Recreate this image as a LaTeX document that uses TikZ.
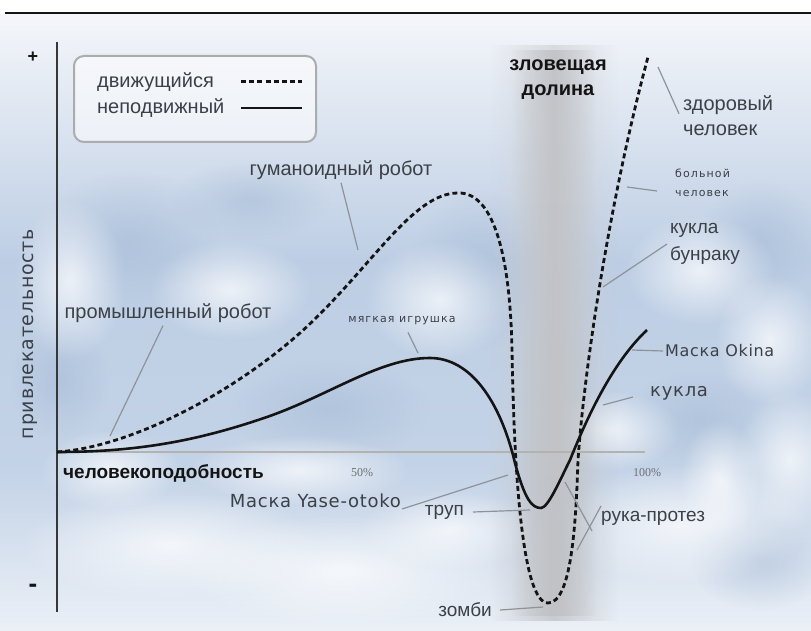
\documentclass[tikz,border=0pt]{standalone}
\usepackage{fontspec}
\setmainfont{Liberation Sans}
\newfontfamily\verafont[LetterSpace=4]{DejaVu Sans}
\newfontfamily\smallvera[LetterSpace=10]{DejaVu Sans}
\newfontfamily\pctfont{Liberation Serif}
\usepackage{tikz}
\usetikzlibrary{fadings}
\definecolor{ink}{HTML}{141414}
\definecolor{muted}{HTML}{3C4047}
\definecolor{leadgray}{HTML}{8E9399}
\definecolor{axisgray}{HTML}{B3B2AF}
\definecolor{skytop}{HTML}{F4F6FA}
\definecolor{skymid}{HTML}{BDCEE4}
\definecolor{skylow}{HTML}{EBF0F7}
\definecolor{skydeep}{HTML}{A2B8D4}
\definecolor{valley}{HTML}{85878B}
\definecolor{valleylow}{HTML}{C0C2C5}
\tikzfading[name=bandfade, left color=transparent!100, right color=transparent!100, middle color=transparent!0]
\tikzfading[name=softblob, inner color=transparent!0, outer color=transparent!100]
\tikzset{
  axisline/.style={draw=ink!85, line width=2.4pt},
  xline/.style={draw=axisgray, line width=2.6pt},
  moveline/.style={draw=ink, line width=2.8pt, dash pattern=on 5pt off 3.2pt},
  stillline/.style={draw=ink, line width=2.6pt},
  leadline/.style={draw=leadgray, line width=1.2pt},
  legendbox/.style={draw=gray!65, line width=2pt, rounded corners=10pt, fill=white, fill opacity=0.55},
  lbl/.style={text=muted, inner sep=0pt, align=left, font=\fontsize{19}{26}\selectfont},
  blbl/.style={text=ink, inner sep=0pt, align=center, font=\bfseries\fontsize{19}{25}\selectfont},
  mlabel/.style={text=muted, inner sep=0pt, font=\verafont\fontsize{17}{20}\selectfont},
  tinylbl/.style={text=muted, inner sep=0pt, align=left, font=\smallvera\fontsize{11}{19}\selectfont},
  pct/.style={text=muted!75, inner sep=0pt, font=\pctfont\fontsize{12}{14}\selectfont},
  sign/.style={text=ink, inner sep=0pt, font=\bfseries\fontsize{18}{18}\selectfont},
  cloud/.style={white, opacity=0.72, path fading=softblob},
  shadow/.style={skydeep, opacity=0.5, path fading=softblob}
}

\begin{document}
\begin{tikzpicture}[x=1pt,y=-1pt]
  \useasboundingbox (0,0) rectangle (811,631);
  \fill[white] (0,0) rectangle (811,631);
  \shade[top color=skytop, bottom color=skymid] (0,15) rectangle (811,260);
  \shade[top color=skymid, bottom color=skymid!90!white] (0,260) rectangle (811,470);
  \shade[top color=skymid!90!white, bottom color=skylow] (0,470) rectangle (811,631);

  \foreach \cx/\cy/\rx/\ry in {130/240/90/70, 330/410/100/50, 700/420/80/50, 480/270/70/80, 250/200/80/40, 760/240/60/60, 60/380/50/60, 760/560/70/50}
    \fill[shadow] (\cx,\cy) ellipse [x radius=\rx, y radius=\ry];
  \foreach \cx/\cy/\rx/\ry in {70/280/55/80, 230/290/80/50, 440/300/75/60, 700/270/75/55, 770/340/55/65, 170/545/150/55, 340/570/160/55, 680/525/130/60, 610/430/70/40, 300/470/110/35, 110/470/70/40, 790/460/55/70, 450/530/90/40, 720/480/40/60}
    \fill[cloud] (\cx,\cy) ellipse [x radius=\rx, y radius=\ry];

  \shade[top color=valley!30!skytop, middle color=valley, bottom color=valleylow, path fading=bandfade, opacity=0.8] (490,45) rectangle (618,620);
  \shade[top color=valley!45!skytop, middle color=valley, bottom color=valleylow, path fading=bandfade] (512,50) rectangle (596,615);

  \draw[line width=2pt, ink] (5,13) -- (811,13);

  \coordinate (O) at (57,452);
  \coordinate (Ytop) at (57,42);
  \coordinate (Ybot) at (57,612);
  \coordinate (Xend) at (645,452);
  \draw[xline] (O) -- (Xend);
  \draw[axisline] (Ytop) -- (Ybot);

  \node[sign] (plus) at (33,57) {+};
  \node[sign, font=\bfseries\fontsize{26}{26}\selectfont] (minus) at (33,588) {-};
  \node[text=muted, inner sep=0pt, rotate=90, font=\verafont\fontsize{19}{20}\selectfont] (attr) at (30,334) {привлекательность};
  \node[blbl, anchor=west] (human) at (63,473) {человекоподобность};
  \node[pct] (p50) at (362,473) {50\%};
  \node[pct] (p100) at (647,473) {100\%};

  \draw[legendbox] (74,56) rectangle (316,142);
  \node[lbl, font=\fontsize{20}{22}\selectfont, anchor=west] (moving) at (97,82) {движущийся};
  \node[lbl, font=\fontsize{20}{22}\selectfont, anchor=west] (still) at (97,108) {неподвижный};
  \coordinate (m1) at (241,82);
  \coordinate (m2) at (302,82);
  \coordinate (s1) at (241,108);
  \coordinate (s2) at (302,108);
  \draw[moveline, line width=3pt] (m1) -- (m2);
  \draw[stillline] (s1) -- (s2);

  \node[blbl, font=\bfseries\fontsize{20}{25}\selectfont] (valleytxt) at (558,80) {зловещая\\долина};

  \draw[moveline] (57,452) .. controls (130,447) and (230,395) .. (300,333)
    .. controls (370,270) and (412,193) .. (458,193)
    .. controls (492,192) and (510,250) .. (512,350)
    .. controls (514,470) and (522,603) .. (548,603)
    .. controls (572,603) and (576,520) .. (578,460)
    .. controls (585,360) and (612,190) .. (648,57);
  \draw[stillline] (57,452) .. controls (140,452) and (200,440) .. (267,417)
    .. controls (330,395) and (380,358) .. (430,358)
    .. controls (470,358) and (500,400) .. (515,463)
    .. controls (525,500) and (532,508) .. (541,508)
    .. controls (548,508) and (560,480) .. (570,460)
    .. controls (590,410) and (615,360) .. (647,330);

  \node[lbl, font=\fontsize{20}{22}\selectfont] (industrial) at (168,313) {промышленный робот};
  \node[lbl, font=\fontsize{20}{22}\selectfont] (humanoid) at (341,170) {гуманоидный робот};
  \node[tinylbl] (toy) at (402,321) {мягкая игрушка};
  \node[lbl, font=\fontsize{20}{25}\selectfont, anchor=west] (healthy) at (683,116) {здоровый\\человек};
  \node[tinylbl, anchor=west] (sick) at (675,183) {больной\\человек};
  \node[lbl, font=\fontsize{19}{27}\selectfont, anchor=west] (bunraku) at (670,244) {кукла\\бунраку};
  \node[mlabel, font=\verafont\fontsize{16}{18}\selectfont, anchor=west] (okina) at (665,351) {Маска Okina};
  \node[mlabel, font=\verafont\fontsize{18}{20}\selectfont, anchor=west] (doll) at (650,393) {кукла};
  \node[mlabel, font=\verafont\fontsize{18}{20}\selectfont, anchor=east] (yase) at (401,501) {Маска Yase-otoko};
  \node[lbl, anchor=east] (corpse) at (464,512) {труп};
  \node[lbl, anchor=west] (hand) at (601,518) {рука-протез};
  \node[lbl, anchor=east] (zombie) at (492,610) {зомби};

  \coordinate (cIndustrial) at (110,436);
  \coordinate (cHumanoid) at (358,250);
  \coordinate (cToy) at (418,353);
  \coordinate (cHealthy) at (658,67);
  \coordinate (cSick) at (627,187);
  \coordinate (cBunraku) at (603,287);
  \coordinate (cOkina) at (632,350);
  \coordinate (cDoll) at (603,405);
  \coordinate (cYase) at (508,475);
  \coordinate (cCorpse) at (530,510);
  \coordinate (cHandA) at (565,482);
  \coordinate (cHandB) at (577,550);
  \coordinate (cZombie) at (543,607);

  \draw[leadline] ([xshift=-5pt,yshift=-3pt]industrial.south) -- (cIndustrial);
  \draw[leadline] ([yshift=-3pt]humanoid.south) -- (cHumanoid);
  \draw[leadline] ([xshift=6pt,yshift=-7pt]toy.south) -- (cToy);
  \draw[leadline] ([xshift=-4pt,yshift=-18pt]healthy.north west) -- (cHealthy);
  \draw[leadline] ([xshift=-18pt,yshift=-8pt]sick.west) -- (cSick);
  \draw[leadline] ([xshift=-3pt]bunraku.west) -- (cBunraku);
  \draw[leadline] ([xshift=-2pt]okina.west) -- (cOkina);
  \draw[leadline] ([xshift=-17pt,yshift=-4pt]doll.west) -- (cDoll);
  \draw[leadline] ([xshift=1pt,yshift=-8pt]yase.east) -- (cYase);
  \draw[leadline] ([xshift=9pt]corpse.east) -- (cCorpse);
  \draw[leadline] ([xshift=-9pt,yshift=-13pt]hand.west) -- (cHandA);
  \draw[leadline] ([yshift=12pt]hand.west) -- (cHandB);
  \draw[leadline] ([xshift=8pt]zombie.east) -- (cZombie);
\end{tikzpicture}
\end{document}
